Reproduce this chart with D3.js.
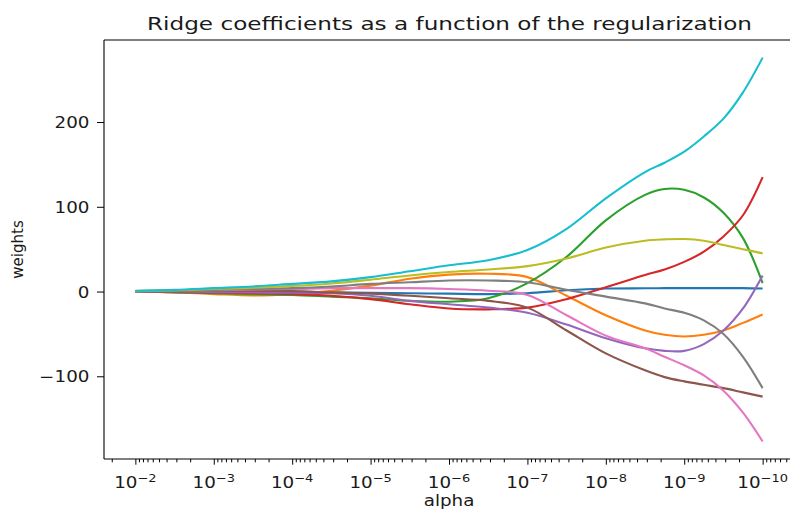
<!DOCTYPE html>
<html><head><meta charset="utf-8">
<script src="https://cdn.jsdelivr.net/npm/d3@7"></script>
<style>
body{margin:0;background:#fff}
svg{display:block}
text{font-family:"DejaVu Sans",sans-serif;fill:#1a1a1a}
</style>
</head><body>
<svg id="chart" width="790" height="512"></svg>
<script>
// ---- data ----
const alphas = [1e-2, 3.16e-3, 1e-3, 3.16e-4, 1e-4, 3.16e-5, 1e-5, 3.16e-6, 1e-6, 3.16e-7,
                1e-7, 3.16e-8, 1e-8, 3.16e-9, 1.78e-9, 1e-9, 5.62e-10, 3.16e-10, 1.78e-10, 1e-10];
const coef0 = [0.5, 0.3, 0, -0.3, -0.5, -1, -1.5, -2, -2.5, -3, -2, 1.5, 3.5, 3.8, 4, 4, 4, 4, 4, 3.5];
const coef1 = [0, -1, -3, -4.5, -3, 1, 7, 15, 20, 21, 17, -5, -28, -46, -51, -53, -51, -46, -37, -27];
const coef2 = [0, -1, -2, -3, -4, -6, -8, -11, -12, -8, 10, 41, 84, 114, 121, 120, 111, 93, 63, 10];
const coef3 = [0, -0.5, -1, -2, -3, -5, -9, -15, -20, -21, -19, -9, 5, 19.5, 26, 35, 47, 65, 90, 135];
const coef4 = [0, 0, -0.5, -1, -1.5, -2, -5, -11, -15, -19, -25, -39, -55, -67, -70, -70, -62, -46, -20, 19];
const coef5 = [0, 0.5, 1, 1, 0.5, -1, -2.5, -5, -8, -11, -19, -46, -73, -93, -101, -106, -110, -114, -119, -124];
const coef6 = [0.5, 1, 1.5, 2.5, 3, 4, 4, 4, 3, 1, -4, -28, -52, -67, -77, -87, -99, -117, -143, -177];
const coef7 = [0.5, 1, 2, 3, 4, 6, 9, 11, 13, 13, 11, 2, -6, -14, -20, -25, -34, -50, -77, -114];
const coef8 = [0.5, 1.5, 3, 4.5, 6.5, 9.5, 14, 19, 23, 26, 30, 39, 52, 60, 61.5, 62, 60, 55, 50, 45];
const coef9 = [1, 2, 4, 6, 9, 12, 17, 24, 31, 37, 49, 74, 110, 141, 152, 165, 183, 204, 235, 276];
const seriesList = [coef0, coef1, coef2, coef3, coef4, coef5, coef6, coef7, coef8, coef9];
const seriesColors = ["#1f77b4", "#ff7f0e", "#2ca02c", "#d62728", "#9467bd",
                      "#8c564b", "#e377c2", "#7f7f7f", "#bcbd22", "#17becf"];
const xTickValues = [1e-2, 1e-3, 1e-4, 1e-5, 1e-6, 1e-7, 1e-8, 1e-9, 1e-10];
const xTickExponents = ["−2", "−3", "−4", "−5", "−6", "−7", "−8", "−9", "−10"];
const yTickValues = [-100, 0, 100, 200];
const yTickLabels = ["−100", "0", "100", "200"];
const titleText = "Ridge coefficients as a function of the regularization";
const xLabelText = "alpha";
const yLabelText = "weights";

// ---- layout ----
const L = 104, R = 794, T = 40, B = 459;
const SX = 1.18; // horizontal glyph stretch of the reference
const svg = d3.select("#chart");

const x = d3.scaleLog().domain([Math.pow(10, -1.6), Math.pow(10, -10.4)]).range([L, R]);
const y = d3.scaleLinear().domain([-197.6, 296.8]).range([B, T]);

svg.append("defs").append("clipPath").attr("id", "clip")
  .append("rect").attr("x", L).attr("y", T).attr("width", R - L).attr("height", B - T);

// lines
const line = d3.line()
  .x(d => x(d[0])).y(d => y(d[1]))
  .curve(d3.curveCatmullRom.alpha(0.5));
const gLines = svg.append("g").attr("clip-path", "url(#clip)");
seriesList.forEach((s, i) => {
  gLines.append("path")
    .attr("d", line(alphas.map((a, k) => [a, s[k]])))
    .attr("fill", "none")
    .attr("stroke", seriesColors[i])
    .attr("stroke-width", 2.1)
    .attr("stroke-linecap", "butt");
});

// spines
const spine = svg.append("g").attr("stroke", "#000").attr("stroke-width", 1.1).attr("fill", "none");
spine.append("line").attr("x1", L).attr("x2", L).attr("y1", T).attr("y2", B);
spine.append("line").attr("x1", L).attr("x2", R).attr("y1", B).attr("y2", B);
spine.append("line").attr("x1", L).attr("x2", R).attr("y1", T).attr("y2", T);
spine.append("line").attr("x1", R).attr("x2", R).attr("y1", T).attr("y2", B);

// x axis ticks via d3 axis
const minorVals = x.ticks().filter(v => Math.abs(Math.log10(v) - Math.round(Math.log10(v))) > 1e-6);
const gxMinor = svg.append("g").attr("transform", `translate(0,${B})`)
  .call(d3.axisBottom(x).tickValues(minorVals).tickSize(3.3).tickFormat(""));
const gxMajor = svg.append("g").attr("transform", `translate(0,${B})`)
  .call(d3.axisBottom(x).tickValues(xTickValues).tickSize(5.7).tickFormat(""));
[gxMinor, gxMajor].forEach(g => {
  g.select(".domain").remove();
  g.selectAll("line").attr("stroke", "#000").attr("stroke-width", 1);
});

// x tick labels (10^n)
xTickValues.forEach((v, i) => {
  const t = svg.append("text")
    .attr("transform", `translate(${x(v)},488) scale(${SX},1)`)
    .attr("text-anchor", "middle")
    .attr("font-size", 15.5);
  t.append("tspan").text("10");
  t.append("tspan").attr("dy", -6).attr("font-size", 11).text(xTickExponents[i]);
});

// y axis ticks via d3 axis
const gy = svg.append("g").attr("transform", `translate(${L},0)`)
  .call(d3.axisLeft(y).tickValues(yTickValues).tickSize(7).tickFormat(""));
gy.select(".domain").remove();
gy.selectAll("line").attr("stroke", "#000").attr("stroke-width", 1);
yTickValues.forEach((v, i) => {
  svg.append("text")
    .attr("transform", `translate(89.5,${y(v) + 6}) scale(${SX},1)`)
    .attr("text-anchor", "end")
    .attr("font-size", 15.5)
    .text(yTickLabels[i]);
});

// title and labels
svg.append("text")
  .attr("x", 147).attr("y", 30)
  .attr("font-size", 18.2)
  .attr("textLength", 605)
  .attr("lengthAdjust", "spacingAndGlyphs")
  .text(titleText);
svg.append("text")
  .attr("transform", `translate(${(L + R) / 2},506) scale(${SX},1)`)
  .attr("text-anchor", "middle")
  .attr("font-size", 15.5)
  .text(xLabelText);
svg.append("text")
  .attr("transform", `translate(23,${(T + B) / 2}) rotate(-90)`)
  .attr("text-anchor", "middle")
  .attr("font-size", 15)
  .text(yLabelText);
</script>
</body></html>
